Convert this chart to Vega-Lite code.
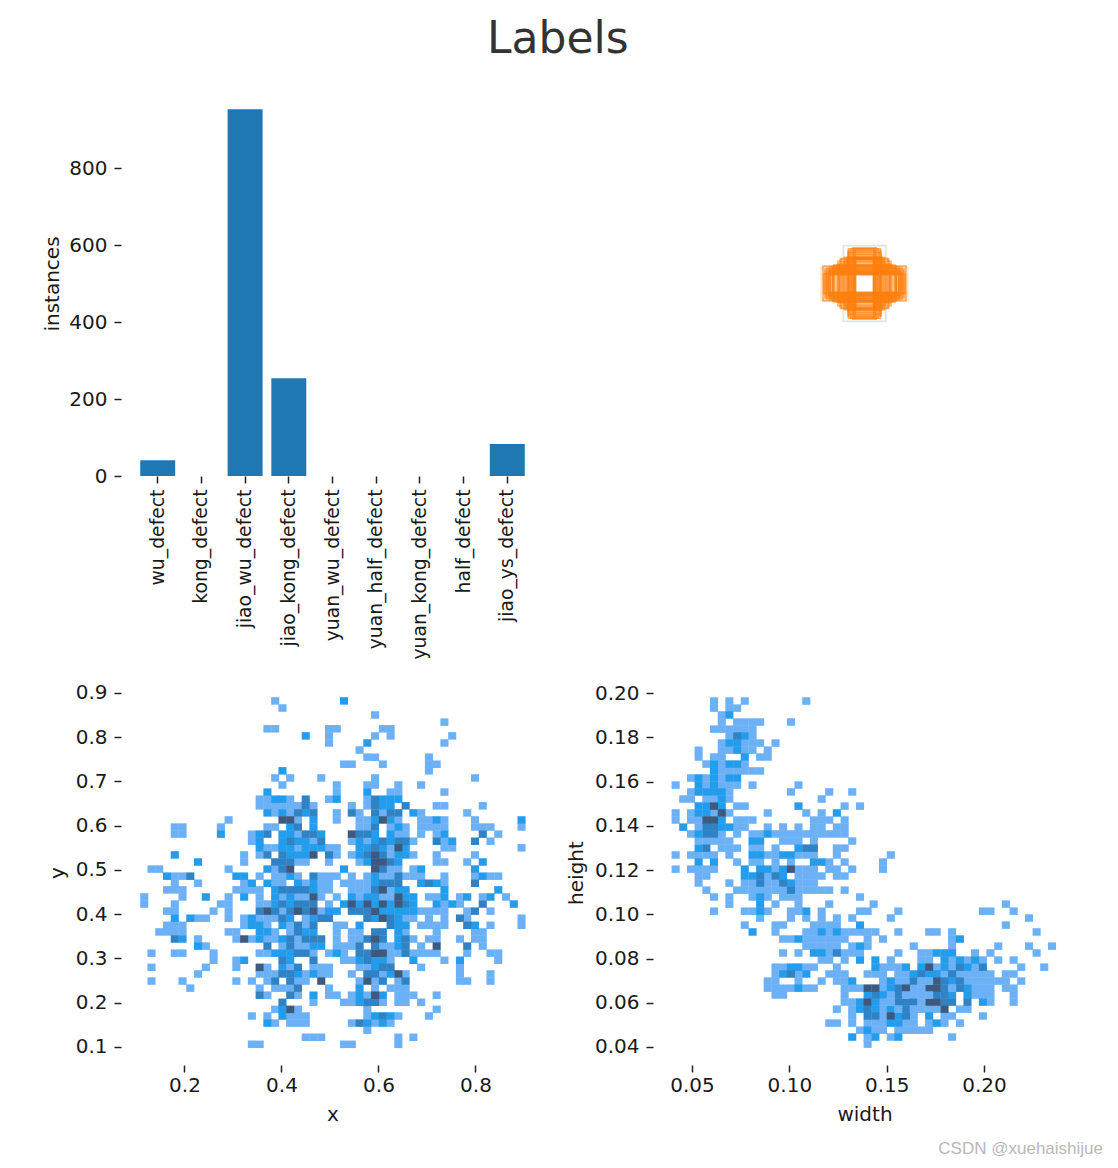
{"$schema":"https://vega.github.io/schema/vega-lite/v6.json","background":"white","padding":{"left":42,"top":18,"right":0,"bottom":0},"title":{"text":"Labels","font":"DejaVu Sans","fontSize":44,"fontWeight":"normal","color":"#333333","anchor":"middle","dx":-15,"offset":29},"config":{"font":"DejaVu Sans","view":{"stroke":null},"axis":{"labelFont":"DejaVu Sans","titleFont":"DejaVu Sans","labelFontSize":20,"titleFontSize":20,"titleFontWeight":"normal","labelColor":"#1a1a1a","titleColor":"#1a1a1a","domain":false,"grid":false,"tickSize":7,"tickWidth":1.5,"tickColor":"#222222","labelPadding":7,"labelOverlap":false,"labelFlush":false,"labelLimit":400}},"concat":[{"width":423,"height":385,"data":{"values":[{"c":"wu_defect","v":41},{"c":"kong_defect","v":0},{"c":"jiao_wu_defect","v":953},{"c":"jiao_kong_defect","v":254},{"c":"yuan_wu_defect","v":0},{"c":"yuan_half_defect","v":0},{"c":"yuan_kong_defect","v":0},{"c":"half_defect","v":0},{"c":"jiao_ys_defect","v":83}]},"mark":{"type":"bar","color":"#1f77b4"},"encoding":{"x":{"field":"c","type":"nominal","sort":null,"title":null,"scale":{"paddingInner":0.2,"paddingOuter":0.44},"axis":{"labelAngle":-90,"labelAlign":"right","labelBaseline":"middle","labelPadding":6,"labelFontSize":18.8}},"y":{"field":"v","type":"quantitative","title":"instances","scale":{"domain":[0,1000.6],"nice":false},"axis":{"values":[0,200,400,600,800],"titlePadding":6}}}},{"width":423,"height":385,"data":{"values":[{"g":"d","x0":0.398,"x1":0.602,"y0":0.4575,"y1":0.5425},{"g":"c","x0":0.45,"x1":0.55,"y0":0.4015,"y1":0.5985},{"g":"a","x0":0.479,"x1":0.521,"y0":0.425,"y1":0.575},{"g":"a","x0":0.4775,"x1":0.5225,"y0":0.41,"y1":0.59},{"g":"a","x0":0.476,"x1":0.524,"y0":0.435,"y1":0.565},{"g":"a","x0":0.475,"x1":0.525,"y0":0.415,"y1":0.585},{"g":"a","x0":0.475,"x1":0.525,"y0":0.43,"y1":0.57},{"g":"a","x0":0.4725,"x1":0.5275,"y0":0.4075,"y1":0.5925},{"g":"a","x0":0.47,"x1":0.53,"y0":0.425,"y1":0.575},{"g":"a","x0":0.47,"x1":0.53,"y0":0.435,"y1":0.565},{"g":"a","x0":0.4675,"x1":0.5325,"y0":0.41,"y1":0.59},{"g":"a","x0":0.465,"x1":0.535,"y0":0.42,"y1":0.58},{"g":"a","x0":0.465,"x1":0.535,"y0":0.435,"y1":0.565},{"g":"a","x0":0.4625,"x1":0.5375,"y0":0.41,"y1":0.59},{"g":"a","x0":0.461,"x1":0.539,"y0":0.415,"y1":0.585},{"g":"a","x0":0.46,"x1":0.54,"y0":0.43,"y1":0.57},{"g":"a","x0":0.4575,"x1":0.5425,"y0":0.435,"y1":0.565},{"g":"a","x0":0.455,"x1":0.545,"y0":0.44,"y1":0.56},{"g":"a","x0":0.4525,"x1":0.5475,"y0":0.4325,"y1":0.5675},{"g":"a","x0":0.45,"x1":0.55,"y0":0.445,"y1":0.555},{"g":"a","x0":0.4475,"x1":0.5525,"y0":0.455,"y1":0.545},{"g":"a","x0":0.445,"x1":0.555,"y0":0.435,"y1":0.565},{"g":"a","x0":0.4425,"x1":0.5575,"y0":0.4375,"y1":0.5625},{"g":"a","x0":0.44,"x1":0.56,"y0":0.45,"y1":0.55},{"g":"a","x0":0.4375,"x1":0.5625,"y0":0.4425,"y1":0.5575},{"g":"a","x0":0.435,"x1":0.565,"y0":0.4525,"y1":0.5475},{"g":"a","x0":0.43,"x1":0.57,"y0":0.46,"y1":0.54},{"g":"a","x0":0.4275,"x1":0.5725,"y0":0.4525,"y1":0.5475},{"g":"a","x0":0.425,"x1":0.575,"y0":0.4675,"y1":0.5325},{"g":"a","x0":0.425,"x1":0.575,"y0":0.475,"y1":0.525},{"g":"a","x0":0.42,"x1":0.58,"y0":0.47,"y1":0.53},{"g":"a","x0":0.42,"x1":0.58,"y0":0.4625,"y1":0.5375},{"g":"a","x0":0.4175,"x1":0.5825,"y0":0.4575,"y1":0.5425},{"g":"a","x0":0.415,"x1":0.585,"y0":0.465,"y1":0.535},{"g":"a","x0":0.415,"x1":0.585,"y0":0.4775,"y1":0.5225},{"g":"a","x0":0.4125,"x1":0.5875,"y0":0.475,"y1":0.525},{"g":"a","x0":0.41,"x1":0.59,"y0":0.4725,"y1":0.5275},{"g":"a","x0":0.4105,"x1":0.5895,"y0":0.46,"y1":0.54},{"g":"a","x0":0.408,"x1":0.592,"y0":0.4675,"y1":0.5325},{"g":"a","x0":0.406,"x1":0.594,"y0":0.4625,"y1":0.5375},{"g":"a","x0":0.404,"x1":0.596,"y0":0.475,"y1":0.525},{"g":"a","x0":0.402,"x1":0.598,"y0":0.455,"y1":0.545},{"g":"b","x0":0.478,"x1":0.522,"y0":0.435,"y1":0.565},{"g":"b","x0":0.44,"x1":0.56,"y0":0.472,"y1":0.528},{"g":"b","x0":0.415,"x1":0.585,"y0":0.47,"y1":0.53},{"g":"b","x0":0.425,"x1":0.575,"y0":0.455,"y1":0.545},{"g":"b","x0":0.4625,"x1":0.5375,"y0":0.42,"y1":0.58}]},"mark":{"type":"rect","fill":null,"strokeWidth":1.8,"strokeOpacity":0.6},"encoding":{"x":{"field":"x0","type":"quantitative","scale":{"domain":[0,1],"nice":false},"axis":null},"x2":{"field":"x1"},"y":{"field":"y0","type":"quantitative","scale":{"domain":[0,1],"nice":false},"axis":null},"y2":{"field":"y1"},"stroke":{"field":"g","type":"nominal","legend":null,"scale":{"domain":["a","b","c","d"],"range":["#ff7f0e","#8f9a32","#c9d3d0","#ffcf99"]}},"order":{"field":"g","sort":"descending"}}},{"width":423,"height":385,"data":{"values":[{"x":0.387,"y":0.882,"n":1},{"x":0.529,"y":0.882,"n":2},{"x":0.402,"y":0.866,"n":1},{"x":0.593,"y":0.85,"n":1},{"x":0.736,"y":0.834,"n":1},{"x":0.371,"y":0.819,"n":1},{"x":0.387,"y":0.819,"n":1},{"x":0.498,"y":0.819,"n":1},{"x":0.514,"y":0.819,"n":1},{"x":0.609,"y":0.819,"n":1},{"x":0.625,"y":0.819,"n":1},{"x":0.45,"y":0.803,"n":2},{"x":0.498,"y":0.803,"n":1},{"x":0.593,"y":0.803,"n":1},{"x":0.625,"y":0.803,"n":1},{"x":0.752,"y":0.803,"n":1},{"x":0.498,"y":0.787,"n":1},{"x":0.577,"y":0.787,"n":2},{"x":0.736,"y":0.787,"n":1},{"x":0.561,"y":0.771,"n":1},{"x":0.577,"y":0.755,"n":1},{"x":0.593,"y":0.755,"n":1},{"x":0.704,"y":0.755,"n":1},{"x":0.529,"y":0.739,"n":1},{"x":0.545,"y":0.739,"n":1},{"x":0.609,"y":0.739,"n":1},{"x":0.704,"y":0.739,"n":1},{"x":0.72,"y":0.739,"n":1},{"x":0.402,"y":0.724,"n":2},{"x":0.704,"y":0.724,"n":1},{"x":0.387,"y":0.708,"n":1},{"x":0.418,"y":0.708,"n":1},{"x":0.482,"y":0.708,"n":1},{"x":0.593,"y":0.708,"n":1},{"x":0.799,"y":0.708,"n":1},{"x":0.402,"y":0.692,"n":1},{"x":0.514,"y":0.692,"n":1},{"x":0.577,"y":0.692,"n":1},{"x":0.593,"y":0.692,"n":1},{"x":0.641,"y":0.692,"n":1},{"x":0.688,"y":0.692,"n":1},{"x":0.371,"y":0.676,"n":2},{"x":0.514,"y":0.676,"n":1},{"x":0.577,"y":0.676,"n":2},{"x":0.625,"y":0.676,"n":1},{"x":0.641,"y":0.676,"n":1},{"x":0.736,"y":0.676,"n":1},{"x":0.355,"y":0.66,"n":1},{"x":0.371,"y":0.66,"n":1},{"x":0.387,"y":0.66,"n":2},{"x":0.402,"y":0.66,"n":2},{"x":0.418,"y":0.66,"n":1},{"x":0.45,"y":0.66,"n":3},{"x":0.498,"y":0.66,"n":1},{"x":0.514,"y":0.66,"n":2},{"x":0.577,"y":0.66,"n":1},{"x":0.593,"y":0.66,"n":3},{"x":0.609,"y":0.66,"n":2},{"x":0.625,"y":0.66,"n":2},{"x":0.641,"y":0.66,"n":2},{"x":0.355,"y":0.645,"n":1},{"x":0.371,"y":0.645,"n":1},{"x":0.387,"y":0.645,"n":1},{"x":0.402,"y":0.645,"n":1},{"x":0.418,"y":0.645,"n":1},{"x":0.434,"y":0.645,"n":1},{"x":0.45,"y":0.645,"n":3},{"x":0.466,"y":0.645,"n":1},{"x":0.545,"y":0.645,"n":1},{"x":0.577,"y":0.645,"n":1},{"x":0.593,"y":0.645,"n":3},{"x":0.609,"y":0.645,"n":2},{"x":0.625,"y":0.645,"n":2},{"x":0.656,"y":0.645,"n":3},{"x":0.72,"y":0.645,"n":1},{"x":0.736,"y":0.645,"n":1},{"x":0.815,"y":0.645,"n":1},{"x":0.371,"y":0.629,"n":2},{"x":0.387,"y":0.629,"n":1},{"x":0.402,"y":0.629,"n":2},{"x":0.418,"y":0.629,"n":1},{"x":0.434,"y":0.629,"n":3},{"x":0.45,"y":0.629,"n":2},{"x":0.466,"y":0.629,"n":3},{"x":0.514,"y":0.629,"n":1},{"x":0.545,"y":0.629,"n":3},{"x":0.561,"y":0.629,"n":1},{"x":0.593,"y":0.629,"n":3},{"x":0.609,"y":0.629,"n":1},{"x":0.625,"y":0.629,"n":3},{"x":0.641,"y":0.629,"n":3},{"x":0.672,"y":0.629,"n":2},{"x":0.688,"y":0.629,"n":1},{"x":0.783,"y":0.629,"n":1},{"x":0.402,"y":0.613,"n":4},{"x":0.418,"y":0.613,"n":4},{"x":0.434,"y":0.613,"n":1},{"x":0.466,"y":0.613,"n":2},{"x":0.514,"y":0.613,"n":1},{"x":0.561,"y":0.613,"n":1},{"x":0.577,"y":0.613,"n":1},{"x":0.593,"y":0.613,"n":2},{"x":0.609,"y":0.613,"n":4},{"x":0.625,"y":0.613,"n":2},{"x":0.641,"y":0.613,"n":1},{"x":0.688,"y":0.613,"n":1},{"x":0.704,"y":0.613,"n":1},{"x":0.72,"y":0.613,"n":2},{"x":0.736,"y":0.613,"n":1},{"x":0.799,"y":0.613,"n":1},{"x":0.895,"y":0.613,"n":2},{"x":0.291,"y":0.613,"n":1},{"x":0.18,"y":0.597,"n":1},{"x":0.196,"y":0.597,"n":1},{"x":0.275,"y":0.597,"n":1},{"x":0.371,"y":0.597,"n":1},{"x":0.387,"y":0.597,"n":1},{"x":0.418,"y":0.597,"n":2},{"x":0.434,"y":0.597,"n":3},{"x":0.466,"y":0.597,"n":2},{"x":0.561,"y":0.597,"n":1},{"x":0.577,"y":0.597,"n":1},{"x":0.593,"y":0.597,"n":3},{"x":0.625,"y":0.597,"n":1},{"x":0.641,"y":0.597,"n":2},{"x":0.656,"y":0.597,"n":1},{"x":0.688,"y":0.597,"n":1},{"x":0.704,"y":0.597,"n":1},{"x":0.72,"y":0.597,"n":1},{"x":0.736,"y":0.597,"n":1},{"x":0.799,"y":0.597,"n":1},{"x":0.815,"y":0.597,"n":1},{"x":0.831,"y":0.597,"n":1},{"x":0.895,"y":0.597,"n":1},{"x":0.18,"y":0.581,"n":1},{"x":0.196,"y":0.581,"n":1},{"x":0.275,"y":0.581,"n":2},{"x":0.339,"y":0.581,"n":1},{"x":0.355,"y":0.581,"n":2},{"x":0.371,"y":0.581,"n":3},{"x":0.402,"y":0.581,"n":2},{"x":0.418,"y":0.581,"n":2},{"x":0.434,"y":0.581,"n":1},{"x":0.45,"y":0.581,"n":3},{"x":0.466,"y":0.581,"n":3},{"x":0.482,"y":0.581,"n":2},{"x":0.545,"y":0.581,"n":4},{"x":0.561,"y":0.581,"n":3},{"x":0.577,"y":0.581,"n":3},{"x":0.593,"y":0.581,"n":2},{"x":0.625,"y":0.581,"n":2},{"x":0.641,"y":0.581,"n":1},{"x":0.656,"y":0.581,"n":1},{"x":0.688,"y":0.581,"n":1},{"x":0.72,"y":0.581,"n":1},{"x":0.736,"y":0.581,"n":2},{"x":0.815,"y":0.581,"n":3},{"x":0.847,"y":0.581,"n":1},{"x":0.339,"y":0.565,"n":1},{"x":0.355,"y":0.565,"n":2},{"x":0.402,"y":0.565,"n":2},{"x":0.418,"y":0.565,"n":3},{"x":0.434,"y":0.565,"n":2},{"x":0.45,"y":0.565,"n":2},{"x":0.466,"y":0.565,"n":1},{"x":0.482,"y":0.565,"n":3},{"x":0.545,"y":0.565,"n":1},{"x":0.561,"y":0.565,"n":2},{"x":0.577,"y":0.565,"n":1},{"x":0.593,"y":0.565,"n":2},{"x":0.609,"y":0.565,"n":3},{"x":0.625,"y":0.565,"n":2},{"x":0.641,"y":0.565,"n":3},{"x":0.656,"y":0.565,"n":3},{"x":0.672,"y":0.565,"n":1},{"x":0.72,"y":0.565,"n":3},{"x":0.736,"y":0.565,"n":1},{"x":0.752,"y":0.565,"n":2},{"x":0.799,"y":0.565,"n":3},{"x":0.831,"y":0.565,"n":1},{"x":0.355,"y":0.55,"n":2},{"x":0.371,"y":0.55,"n":1},{"x":0.387,"y":0.55,"n":1},{"x":0.402,"y":0.55,"n":2},{"x":0.418,"y":0.55,"n":2},{"x":0.434,"y":0.55,"n":1},{"x":0.45,"y":0.55,"n":2},{"x":0.466,"y":0.55,"n":2},{"x":0.482,"y":0.55,"n":2},{"x":0.498,"y":0.55,"n":1},{"x":0.514,"y":0.55,"n":1},{"x":0.561,"y":0.55,"n":2},{"x":0.577,"y":0.55,"n":2},{"x":0.593,"y":0.55,"n":3},{"x":0.609,"y":0.55,"n":2},{"x":0.625,"y":0.55,"n":1},{"x":0.641,"y":0.55,"n":4},{"x":0.656,"y":0.55,"n":2},{"x":0.736,"y":0.55,"n":1},{"x":0.752,"y":0.55,"n":1},{"x":0.895,"y":0.55,"n":1},{"x":0.18,"y":0.534,"n":2},{"x":0.323,"y":0.534,"n":1},{"x":0.355,"y":0.534,"n":1},{"x":0.371,"y":0.534,"n":3},{"x":0.402,"y":0.534,"n":3},{"x":0.418,"y":0.534,"n":2},{"x":0.434,"y":0.534,"n":2},{"x":0.45,"y":0.534,"n":2},{"x":0.466,"y":0.534,"n":4},{"x":0.498,"y":0.534,"n":3},{"x":0.514,"y":0.534,"n":1},{"x":0.545,"y":0.534,"n":1},{"x":0.561,"y":0.534,"n":2},{"x":0.577,"y":0.534,"n":3},{"x":0.593,"y":0.534,"n":4},{"x":0.609,"y":0.534,"n":3},{"x":0.625,"y":0.534,"n":1},{"x":0.641,"y":0.534,"n":2},{"x":0.656,"y":0.534,"n":2},{"x":0.672,"y":0.534,"n":1},{"x":0.72,"y":0.534,"n":1},{"x":0.799,"y":0.534,"n":1},{"x":0.228,"y":0.518,"n":2},{"x":0.323,"y":0.518,"n":1},{"x":0.387,"y":0.518,"n":3},{"x":0.402,"y":0.518,"n":3},{"x":0.418,"y":0.518,"n":3},{"x":0.434,"y":0.518,"n":1},{"x":0.45,"y":0.518,"n":1},{"x":0.498,"y":0.518,"n":1},{"x":0.561,"y":0.518,"n":1},{"x":0.577,"y":0.518,"n":2},{"x":0.593,"y":0.518,"n":4},{"x":0.609,"y":0.518,"n":4},{"x":0.625,"y":0.518,"n":3},{"x":0.641,"y":0.518,"n":2},{"x":0.72,"y":0.518,"n":1},{"x":0.736,"y":0.518,"n":1},{"x":0.783,"y":0.518,"n":1},{"x":0.815,"y":0.518,"n":2},{"x":0.132,"y":0.502,"n":1},{"x":0.148,"y":0.502,"n":1},{"x":0.291,"y":0.502,"n":1},{"x":0.371,"y":0.502,"n":2},{"x":0.387,"y":0.502,"n":1},{"x":0.402,"y":0.502,"n":3},{"x":0.418,"y":0.502,"n":4},{"x":0.529,"y":0.502,"n":2},{"x":0.593,"y":0.502,"n":4},{"x":0.609,"y":0.502,"n":3},{"x":0.625,"y":0.502,"n":1},{"x":0.641,"y":0.502,"n":1},{"x":0.672,"y":0.502,"n":1},{"x":0.688,"y":0.502,"n":2},{"x":0.799,"y":0.502,"n":2},{"x":0.164,"y":0.486,"n":2},{"x":0.18,"y":0.486,"n":1},{"x":0.196,"y":0.486,"n":1},{"x":0.212,"y":0.486,"n":3},{"x":0.307,"y":0.486,"n":2},{"x":0.323,"y":0.486,"n":2},{"x":0.355,"y":0.486,"n":1},{"x":0.387,"y":0.486,"n":1},{"x":0.402,"y":0.486,"n":1},{"x":0.418,"y":0.486,"n":2},{"x":0.434,"y":0.486,"n":1},{"x":0.466,"y":0.486,"n":3},{"x":0.482,"y":0.486,"n":1},{"x":0.498,"y":0.486,"n":1},{"x":0.514,"y":0.486,"n":1},{"x":0.545,"y":0.486,"n":1},{"x":0.577,"y":0.486,"n":1},{"x":0.593,"y":0.486,"n":2},{"x":0.609,"y":0.486,"n":1},{"x":0.625,"y":0.486,"n":1},{"x":0.641,"y":0.486,"n":3},{"x":0.656,"y":0.486,"n":1},{"x":0.672,"y":0.486,"n":1},{"x":0.688,"y":0.486,"n":1},{"x":0.736,"y":0.486,"n":1},{"x":0.799,"y":0.486,"n":1},{"x":0.815,"y":0.486,"n":2},{"x":0.831,"y":0.486,"n":1},{"x":0.847,"y":0.486,"n":1},{"x":0.18,"y":0.47,"n":1},{"x":0.228,"y":0.47,"n":1},{"x":0.323,"y":0.47,"n":1},{"x":0.339,"y":0.47,"n":2},{"x":0.371,"y":0.47,"n":2},{"x":0.387,"y":0.47,"n":1},{"x":0.402,"y":0.47,"n":1},{"x":0.434,"y":0.47,"n":2},{"x":0.45,"y":0.47,"n":1},{"x":0.466,"y":0.47,"n":2},{"x":0.482,"y":0.47,"n":1},{"x":0.498,"y":0.47,"n":1},{"x":0.529,"y":0.47,"n":1},{"x":0.545,"y":0.47,"n":1},{"x":0.561,"y":0.47,"n":1},{"x":0.577,"y":0.47,"n":1},{"x":0.593,"y":0.47,"n":2},{"x":0.609,"y":0.47,"n":3},{"x":0.625,"y":0.47,"n":3},{"x":0.641,"y":0.47,"n":3},{"x":0.688,"y":0.47,"n":2},{"x":0.704,"y":0.47,"n":3},{"x":0.72,"y":0.47,"n":2},{"x":0.736,"y":0.47,"n":1},{"x":0.799,"y":0.47,"n":3},{"x":0.164,"y":0.455,"n":1},{"x":0.18,"y":0.455,"n":1},{"x":0.196,"y":0.455,"n":1},{"x":0.307,"y":0.455,"n":1},{"x":0.323,"y":0.455,"n":1},{"x":0.339,"y":0.455,"n":1},{"x":0.355,"y":0.455,"n":1},{"x":0.387,"y":0.455,"n":2},{"x":0.402,"y":0.455,"n":3},{"x":0.418,"y":0.455,"n":3},{"x":0.434,"y":0.455,"n":3},{"x":0.45,"y":0.455,"n":3},{"x":0.466,"y":0.455,"n":2},{"x":0.482,"y":0.455,"n":1},{"x":0.498,"y":0.455,"n":1},{"x":0.545,"y":0.455,"n":1},{"x":0.561,"y":0.455,"n":1},{"x":0.577,"y":0.455,"n":1},{"x":0.593,"y":0.455,"n":3},{"x":0.609,"y":0.455,"n":4},{"x":0.625,"y":0.455,"n":1},{"x":0.641,"y":0.455,"n":2},{"x":0.656,"y":0.455,"n":2},{"x":0.736,"y":0.455,"n":2},{"x":0.847,"y":0.455,"n":2},{"x":0.117,"y":0.439,"n":1},{"x":0.196,"y":0.439,"n":1},{"x":0.244,"y":0.439,"n":2},{"x":0.291,"y":0.439,"n":1},{"x":0.323,"y":0.439,"n":2},{"x":0.355,"y":0.439,"n":1},{"x":0.387,"y":0.439,"n":2},{"x":0.402,"y":0.439,"n":1},{"x":0.418,"y":0.439,"n":2},{"x":0.434,"y":0.439,"n":1},{"x":0.45,"y":0.439,"n":1},{"x":0.466,"y":0.439,"n":4},{"x":0.482,"y":0.439,"n":1},{"x":0.514,"y":0.439,"n":1},{"x":0.545,"y":0.439,"n":2},{"x":0.561,"y":0.439,"n":1},{"x":0.577,"y":0.439,"n":2},{"x":0.593,"y":0.439,"n":2},{"x":0.609,"y":0.439,"n":1},{"x":0.625,"y":0.439,"n":1},{"x":0.641,"y":0.439,"n":4},{"x":0.656,"y":0.439,"n":2},{"x":0.672,"y":0.439,"n":2},{"x":0.704,"y":0.439,"n":1},{"x":0.72,"y":0.439,"n":1},{"x":0.736,"y":0.439,"n":2},{"x":0.768,"y":0.439,"n":1},{"x":0.783,"y":0.439,"n":2},{"x":0.815,"y":0.439,"n":1},{"x":0.831,"y":0.439,"n":2},{"x":0.863,"y":0.439,"n":1},{"x":0.117,"y":0.423,"n":1},{"x":0.18,"y":0.423,"n":1},{"x":0.275,"y":0.423,"n":1},{"x":0.291,"y":0.423,"n":1},{"x":0.355,"y":0.423,"n":1},{"x":0.371,"y":0.423,"n":1},{"x":0.387,"y":0.423,"n":2},{"x":0.402,"y":0.423,"n":3},{"x":0.418,"y":0.423,"n":2},{"x":0.434,"y":0.423,"n":3},{"x":0.45,"y":0.423,"n":3},{"x":0.466,"y":0.423,"n":3},{"x":0.498,"y":0.423,"n":1},{"x":0.529,"y":0.423,"n":2},{"x":0.545,"y":0.423,"n":4},{"x":0.561,"y":0.423,"n":2},{"x":0.577,"y":0.423,"n":4},{"x":0.593,"y":0.423,"n":2},{"x":0.609,"y":0.423,"n":4},{"x":0.625,"y":0.423,"n":2},{"x":0.641,"y":0.423,"n":4},{"x":0.656,"y":0.423,"n":3},{"x":0.672,"y":0.423,"n":2},{"x":0.72,"y":0.423,"n":2},{"x":0.736,"y":0.423,"n":1},{"x":0.752,"y":0.423,"n":2},{"x":0.768,"y":0.423,"n":1},{"x":0.815,"y":0.423,"n":3},{"x":0.879,"y":0.423,"n":2},{"x":0.164,"y":0.407,"n":1},{"x":0.18,"y":0.407,"n":1},{"x":0.26,"y":0.407,"n":1},{"x":0.291,"y":0.407,"n":1},{"x":0.355,"y":0.407,"n":3},{"x":0.371,"y":0.407,"n":4},{"x":0.387,"y":0.407,"n":3},{"x":0.402,"y":0.407,"n":1},{"x":0.418,"y":0.407,"n":3},{"x":0.434,"y":0.407,"n":4},{"x":0.45,"y":0.407,"n":3},{"x":0.466,"y":0.407,"n":4},{"x":0.482,"y":0.407,"n":1},{"x":0.498,"y":0.407,"n":2},{"x":0.514,"y":0.407,"n":2},{"x":0.545,"y":0.407,"n":3},{"x":0.561,"y":0.407,"n":3},{"x":0.577,"y":0.407,"n":3},{"x":0.593,"y":0.407,"n":4},{"x":0.609,"y":0.407,"n":2},{"x":0.625,"y":0.407,"n":2},{"x":0.641,"y":0.407,"n":2},{"x":0.656,"y":0.407,"n":2},{"x":0.672,"y":0.407,"n":2},{"x":0.688,"y":0.407,"n":1},{"x":0.704,"y":0.407,"n":1},{"x":0.72,"y":0.407,"n":1},{"x":0.736,"y":0.407,"n":1},{"x":0.783,"y":0.407,"n":1},{"x":0.799,"y":0.407,"n":3},{"x":0.831,"y":0.407,"n":1},{"x":0.18,"y":0.391,"n":2},{"x":0.212,"y":0.391,"n":2},{"x":0.228,"y":0.391,"n":1},{"x":0.244,"y":0.391,"n":1},{"x":0.291,"y":0.391,"n":1},{"x":0.323,"y":0.391,"n":1},{"x":0.339,"y":0.391,"n":2},{"x":0.355,"y":0.391,"n":1},{"x":0.371,"y":0.391,"n":1},{"x":0.387,"y":0.391,"n":1},{"x":0.402,"y":0.391,"n":3},{"x":0.418,"y":0.391,"n":2},{"x":0.45,"y":0.391,"n":1},{"x":0.466,"y":0.391,"n":2},{"x":0.482,"y":0.391,"n":3},{"x":0.498,"y":0.391,"n":3},{"x":0.577,"y":0.391,"n":3},{"x":0.593,"y":0.391,"n":2},{"x":0.609,"y":0.391,"n":4},{"x":0.625,"y":0.391,"n":3},{"x":0.641,"y":0.391,"n":2},{"x":0.656,"y":0.391,"n":1},{"x":0.672,"y":0.391,"n":1},{"x":0.704,"y":0.391,"n":1},{"x":0.736,"y":0.391,"n":1},{"x":0.768,"y":0.391,"n":3},{"x":0.783,"y":0.391,"n":1},{"x":0.895,"y":0.391,"n":1},{"x":0.164,"y":0.375,"n":1},{"x":0.18,"y":0.375,"n":1},{"x":0.196,"y":0.375,"n":1},{"x":0.323,"y":0.375,"n":1},{"x":0.339,"y":0.375,"n":2},{"x":0.355,"y":0.375,"n":2},{"x":0.371,"y":0.375,"n":1},{"x":0.402,"y":0.375,"n":2},{"x":0.418,"y":0.375,"n":1},{"x":0.434,"y":0.375,"n":3},{"x":0.45,"y":0.375,"n":1},{"x":0.466,"y":0.375,"n":3},{"x":0.514,"y":0.375,"n":1},{"x":0.529,"y":0.375,"n":1},{"x":0.561,"y":0.375,"n":2},{"x":0.625,"y":0.375,"n":3},{"x":0.641,"y":0.375,"n":2},{"x":0.656,"y":0.375,"n":2},{"x":0.688,"y":0.375,"n":1},{"x":0.704,"y":0.375,"n":1},{"x":0.72,"y":0.375,"n":1},{"x":0.736,"y":0.375,"n":1},{"x":0.783,"y":0.375,"n":3},{"x":0.799,"y":0.375,"n":2},{"x":0.831,"y":0.375,"n":1},{"x":0.895,"y":0.375,"n":1},{"x":0.148,"y":0.36,"n":1},{"x":0.164,"y":0.36,"n":1},{"x":0.18,"y":0.36,"n":1},{"x":0.196,"y":0.36,"n":1},{"x":0.291,"y":0.36,"n":1},{"x":0.307,"y":0.36,"n":1},{"x":0.355,"y":0.36,"n":2},{"x":0.371,"y":0.36,"n":2},{"x":0.387,"y":0.36,"n":1},{"x":0.418,"y":0.36,"n":1},{"x":0.434,"y":0.36,"n":3},{"x":0.45,"y":0.36,"n":2},{"x":0.466,"y":0.36,"n":2},{"x":0.514,"y":0.36,"n":1},{"x":0.545,"y":0.36,"n":1},{"x":0.561,"y":0.36,"n":1},{"x":0.593,"y":0.36,"n":3},{"x":0.609,"y":0.36,"n":3},{"x":0.641,"y":0.36,"n":2},{"x":0.656,"y":0.36,"n":1},{"x":0.72,"y":0.36,"n":1},{"x":0.799,"y":0.36,"n":1},{"x":0.815,"y":0.36,"n":1},{"x":0.18,"y":0.344,"n":3},{"x":0.196,"y":0.344,"n":2},{"x":0.228,"y":0.344,"n":1},{"x":0.307,"y":0.344,"n":1},{"x":0.323,"y":0.344,"n":4},{"x":0.339,"y":0.344,"n":1},{"x":0.355,"y":0.344,"n":2},{"x":0.371,"y":0.344,"n":1},{"x":0.387,"y":0.344,"n":1},{"x":0.402,"y":0.344,"n":2},{"x":0.418,"y":0.344,"n":3},{"x":0.434,"y":0.344,"n":1},{"x":0.45,"y":0.344,"n":3},{"x":0.466,"y":0.344,"n":3},{"x":0.482,"y":0.344,"n":3},{"x":0.514,"y":0.344,"n":1},{"x":0.545,"y":0.344,"n":1},{"x":0.561,"y":0.344,"n":1},{"x":0.577,"y":0.344,"n":3},{"x":0.593,"y":0.344,"n":4},{"x":0.609,"y":0.344,"n":3},{"x":0.641,"y":0.344,"n":2},{"x":0.656,"y":0.344,"n":3},{"x":0.672,"y":0.344,"n":1},{"x":0.704,"y":0.344,"n":1},{"x":0.72,"y":0.344,"n":1},{"x":0.768,"y":0.344,"n":1},{"x":0.799,"y":0.344,"n":1},{"x":0.815,"y":0.344,"n":1},{"x":0.228,"y":0.328,"n":2},{"x":0.244,"y":0.328,"n":1},{"x":0.371,"y":0.328,"n":3},{"x":0.402,"y":0.328,"n":1},{"x":0.418,"y":0.328,"n":3},{"x":0.434,"y":0.328,"n":1},{"x":0.45,"y":0.328,"n":1},{"x":0.466,"y":0.328,"n":2},{"x":0.482,"y":0.328,"n":2},{"x":0.514,"y":0.328,"n":1},{"x":0.529,"y":0.328,"n":1},{"x":0.545,"y":0.328,"n":1},{"x":0.561,"y":0.328,"n":3},{"x":0.593,"y":0.328,"n":3},{"x":0.609,"y":0.328,"n":1},{"x":0.625,"y":0.328,"n":1},{"x":0.641,"y":0.328,"n":2},{"x":0.656,"y":0.328,"n":3},{"x":0.688,"y":0.328,"n":1},{"x":0.72,"y":0.328,"n":4},{"x":0.783,"y":0.328,"n":3},{"x":0.815,"y":0.328,"n":1},{"x":0.132,"y":0.312,"n":1},{"x":0.18,"y":0.312,"n":1},{"x":0.196,"y":0.312,"n":1},{"x":0.26,"y":0.312,"n":1},{"x":0.355,"y":0.312,"n":1},{"x":0.371,"y":0.312,"n":1},{"x":0.387,"y":0.312,"n":2},{"x":0.402,"y":0.312,"n":2},{"x":0.418,"y":0.312,"n":2},{"x":0.434,"y":0.312,"n":3},{"x":0.45,"y":0.312,"n":3},{"x":0.466,"y":0.312,"n":1},{"x":0.498,"y":0.312,"n":1},{"x":0.514,"y":0.312,"n":2},{"x":0.529,"y":0.312,"n":1},{"x":0.561,"y":0.312,"n":3},{"x":0.577,"y":0.312,"n":3},{"x":0.593,"y":0.312,"n":4},{"x":0.609,"y":0.312,"n":4},{"x":0.625,"y":0.312,"n":1},{"x":0.641,"y":0.312,"n":1},{"x":0.656,"y":0.312,"n":3},{"x":0.672,"y":0.312,"n":1},{"x":0.688,"y":0.312,"n":1},{"x":0.704,"y":0.312,"n":1},{"x":0.72,"y":0.312,"n":1},{"x":0.783,"y":0.312,"n":1},{"x":0.831,"y":0.312,"n":1},{"x":0.847,"y":0.312,"n":1},{"x":0.26,"y":0.296,"n":1},{"x":0.307,"y":0.296,"n":1},{"x":0.323,"y":0.296,"n":2},{"x":0.402,"y":0.296,"n":3},{"x":0.418,"y":0.296,"n":2},{"x":0.466,"y":0.296,"n":3},{"x":0.529,"y":0.296,"n":1},{"x":0.545,"y":0.296,"n":1},{"x":0.561,"y":0.296,"n":2},{"x":0.577,"y":0.296,"n":3},{"x":0.593,"y":0.296,"n":2},{"x":0.609,"y":0.296,"n":2},{"x":0.625,"y":0.296,"n":1},{"x":0.672,"y":0.296,"n":2},{"x":0.736,"y":0.296,"n":1},{"x":0.768,"y":0.296,"n":2},{"x":0.847,"y":0.296,"n":1},{"x":0.132,"y":0.28,"n":1},{"x":0.244,"y":0.28,"n":1},{"x":0.307,"y":0.28,"n":1},{"x":0.355,"y":0.28,"n":4},{"x":0.371,"y":0.28,"n":1},{"x":0.402,"y":0.28,"n":2},{"x":0.418,"y":0.28,"n":1},{"x":0.434,"y":0.28,"n":3},{"x":0.466,"y":0.28,"n":1},{"x":0.482,"y":0.28,"n":1},{"x":0.498,"y":0.28,"n":1},{"x":0.561,"y":0.28,"n":1},{"x":0.577,"y":0.28,"n":1},{"x":0.593,"y":0.28,"n":2},{"x":0.609,"y":0.28,"n":3},{"x":0.625,"y":0.28,"n":3},{"x":0.688,"y":0.28,"n":1},{"x":0.768,"y":0.28,"n":1},{"x":0.228,"y":0.265,"n":1},{"x":0.355,"y":0.265,"n":1},{"x":0.371,"y":0.265,"n":1},{"x":0.387,"y":0.265,"n":1},{"x":0.402,"y":0.265,"n":3},{"x":0.418,"y":0.265,"n":3},{"x":0.434,"y":0.265,"n":2},{"x":0.45,"y":0.265,"n":1},{"x":0.466,"y":0.265,"n":2},{"x":0.482,"y":0.265,"n":1},{"x":0.498,"y":0.265,"n":1},{"x":0.545,"y":0.265,"n":1},{"x":0.577,"y":0.265,"n":3},{"x":0.593,"y":0.265,"n":3},{"x":0.609,"y":0.265,"n":1},{"x":0.625,"y":0.265,"n":2},{"x":0.641,"y":0.265,"n":4},{"x":0.656,"y":0.265,"n":1},{"x":0.768,"y":0.265,"n":1},{"x":0.831,"y":0.265,"n":1},{"x":0.132,"y":0.249,"n":1},{"x":0.196,"y":0.249,"n":1},{"x":0.307,"y":0.249,"n":1},{"x":0.339,"y":0.249,"n":1},{"x":0.371,"y":0.249,"n":1},{"x":0.387,"y":0.249,"n":3},{"x":0.418,"y":0.249,"n":3},{"x":0.434,"y":0.249,"n":1},{"x":0.45,"y":0.249,"n":1},{"x":0.482,"y":0.249,"n":4},{"x":0.561,"y":0.249,"n":1},{"x":0.577,"y":0.249,"n":4},{"x":0.593,"y":0.249,"n":1},{"x":0.609,"y":0.249,"n":3},{"x":0.641,"y":0.249,"n":1},{"x":0.656,"y":0.249,"n":3},{"x":0.768,"y":0.249,"n":1},{"x":0.783,"y":0.249,"n":1},{"x":0.831,"y":0.249,"n":1},{"x":0.212,"y":0.233,"n":1},{"x":0.355,"y":0.233,"n":1},{"x":0.387,"y":0.233,"n":1},{"x":0.402,"y":0.233,"n":1},{"x":0.418,"y":0.233,"n":1},{"x":0.434,"y":0.233,"n":3},{"x":0.498,"y":0.233,"n":1},{"x":0.561,"y":0.233,"n":2},{"x":0.593,"y":0.233,"n":1},{"x":0.625,"y":0.233,"n":1},{"x":0.641,"y":0.233,"n":1},{"x":0.656,"y":0.233,"n":1},{"x":0.355,"y":0.217,"n":3},{"x":0.371,"y":0.217,"n":1},{"x":0.418,"y":0.217,"n":3},{"x":0.434,"y":0.217,"n":1},{"x":0.466,"y":0.217,"n":2},{"x":0.498,"y":0.217,"n":1},{"x":0.514,"y":0.217,"n":1},{"x":0.545,"y":0.217,"n":1},{"x":0.561,"y":0.217,"n":2},{"x":0.577,"y":0.217,"n":1},{"x":0.593,"y":0.217,"n":4},{"x":0.609,"y":0.217,"n":2},{"x":0.641,"y":0.217,"n":1},{"x":0.656,"y":0.217,"n":1},{"x":0.672,"y":0.217,"n":1},{"x":0.72,"y":0.217,"n":1},{"x":0.402,"y":0.201,"n":3},{"x":0.466,"y":0.201,"n":1},{"x":0.529,"y":0.201,"n":1},{"x":0.545,"y":0.201,"n":1},{"x":0.561,"y":0.201,"n":2},{"x":0.577,"y":0.201,"n":3},{"x":0.593,"y":0.201,"n":3},{"x":0.609,"y":0.201,"n":1},{"x":0.641,"y":0.201,"n":1},{"x":0.656,"y":0.201,"n":1},{"x":0.688,"y":0.201,"n":1},{"x":0.387,"y":0.185,"n":1},{"x":0.402,"y":0.185,"n":2},{"x":0.418,"y":0.185,"n":4},{"x":0.434,"y":0.185,"n":1},{"x":0.577,"y":0.185,"n":1},{"x":0.72,"y":0.185,"n":1},{"x":0.339,"y":0.17,"n":1},{"x":0.371,"y":0.17,"n":1},{"x":0.402,"y":0.17,"n":2},{"x":0.418,"y":0.17,"n":1},{"x":0.434,"y":0.17,"n":1},{"x":0.45,"y":0.17,"n":1},{"x":0.577,"y":0.17,"n":1},{"x":0.593,"y":0.17,"n":2},{"x":0.609,"y":0.17,"n":3},{"x":0.625,"y":0.17,"n":2},{"x":0.641,"y":0.17,"n":1},{"x":0.704,"y":0.17,"n":1},{"x":0.371,"y":0.154,"n":2},{"x":0.387,"y":0.154,"n":1},{"x":0.418,"y":0.154,"n":1},{"x":0.434,"y":0.154,"n":1},{"x":0.45,"y":0.154,"n":1},{"x":0.545,"y":0.154,"n":1},{"x":0.561,"y":0.154,"n":3},{"x":0.577,"y":0.154,"n":2},{"x":0.593,"y":0.154,"n":1},{"x":0.609,"y":0.154,"n":2},{"x":0.625,"y":0.154,"n":1},{"x":0.577,"y":0.138,"n":1},{"x":0.45,"y":0.122,"n":1},{"x":0.466,"y":0.122,"n":1},{"x":0.482,"y":0.122,"n":1},{"x":0.641,"y":0.122,"n":1},{"x":0.672,"y":0.122,"n":1},{"x":0.339,"y":0.106,"n":1},{"x":0.355,"y":0.106,"n":1},{"x":0.529,"y":0.106,"n":1},{"x":0.545,"y":0.106,"n":1},{"x":0.641,"y":0.106,"n":1}]},"mark":{"type":"rect","width":8.1,"height":7.5},"encoding":{"x":{"field":"x","type":"quantitative","title":"x","scale":{"domain":[0.0691,0.9413],"nice":false},"axis":{"values":[0.2,0.4,0.6,0.8],"format":".1f","labelPadding":3,"titlePadding":9}},"y":{"field":"y","type":"quantitative","title":"y","scale":{"domain":[0.0593,0.9293],"nice":false},"axis":{"values":[0.1,0.2,0.3,0.4,0.5,0.6,0.7,0.8,0.9],"format":".1f","titlePadding":8}},"color":{"field":"n","type":"ordinal","legend":null,"scale":{"domain":[1,2,3,4],"range":["#6cb1f5","#249cec","#2f82c4","#3c5a80"]}},"order":{"field":"n"}}},{"width":423,"height":385,"layer":[{"data":{"values":[{"x":0.0613,"y":0.1964,"n":1},{"x":0.0692,"y":0.1964,"n":1},{"x":0.0771,"y":0.1964,"n":1},{"x":0.1087,"y":0.1964,"n":1},{"x":0.0613,"y":0.1932,"n":1},{"x":0.0692,"y":0.1932,"n":1},{"x":0.0732,"y":0.1932,"n":1},{"x":0.0653,"y":0.1901,"n":1},{"x":0.0692,"y":0.1901,"n":2},{"x":0.0653,"y":0.1869,"n":1},{"x":0.0732,"y":0.1869,"n":1},{"x":0.0771,"y":0.1869,"n":1},{"x":0.0811,"y":0.1869,"n":1},{"x":0.085,"y":0.1869,"n":1},{"x":0.1008,"y":0.1869,"n":1},{"x":0.0613,"y":0.1837,"n":1},{"x":0.0653,"y":0.1837,"n":1},{"x":0.0692,"y":0.1837,"n":1},{"x":0.0732,"y":0.1837,"n":1},{"x":0.0771,"y":0.1837,"n":1},{"x":0.0811,"y":0.1837,"n":1},{"x":0.0692,"y":0.1806,"n":1},{"x":0.0732,"y":0.1806,"n":3},{"x":0.0771,"y":0.1806,"n":2},{"x":0.0811,"y":0.1806,"n":1},{"x":0.0653,"y":0.1774,"n":1},{"x":0.0692,"y":0.1774,"n":2},{"x":0.0732,"y":0.1774,"n":2},{"x":0.0771,"y":0.1774,"n":1},{"x":0.0811,"y":0.1774,"n":1},{"x":0.085,"y":0.1774,"n":1},{"x":0.0929,"y":0.1774,"n":1},{"x":0.0534,"y":0.1742,"n":1},{"x":0.0653,"y":0.1742,"n":1},{"x":0.0692,"y":0.1742,"n":1},{"x":0.0732,"y":0.1742,"n":2},{"x":0.0771,"y":0.1742,"n":1},{"x":0.0811,"y":0.1742,"n":1},{"x":0.0889,"y":0.1742,"n":1},{"x":0.0534,"y":0.1711,"n":1},{"x":0.0613,"y":0.1711,"n":1},{"x":0.0653,"y":0.1711,"n":1},{"x":0.0771,"y":0.1711,"n":2},{"x":0.085,"y":0.1711,"n":1},{"x":0.0889,"y":0.1711,"n":1},{"x":0.0574,"y":0.1679,"n":1},{"x":0.0613,"y":0.1679,"n":2},{"x":0.0653,"y":0.1679,"n":1},{"x":0.0692,"y":0.1679,"n":2},{"x":0.0732,"y":0.1679,"n":2},{"x":0.0771,"y":0.1679,"n":1},{"x":0.0613,"y":0.1648,"n":2},{"x":0.0653,"y":0.1648,"n":1},{"x":0.0692,"y":0.1648,"n":1},{"x":0.0732,"y":0.1648,"n":1},{"x":0.0771,"y":0.1648,"n":1},{"x":0.0811,"y":0.1648,"n":1},{"x":0.085,"y":0.1648,"n":1},{"x":0.0495,"y":0.1616,"n":1},{"x":0.0534,"y":0.1616,"n":2},{"x":0.0574,"y":0.1616,"n":1},{"x":0.0613,"y":0.1616,"n":2},{"x":0.0653,"y":0.1616,"n":1},{"x":0.0692,"y":0.1616,"n":2},{"x":0.0732,"y":0.1616,"n":2},{"x":0.0416,"y":0.1584,"n":1},{"x":0.0534,"y":0.1584,"n":2},{"x":0.0574,"y":0.1584,"n":1},{"x":0.0613,"y":0.1584,"n":2},{"x":0.0653,"y":0.1584,"n":1},{"x":0.0692,"y":0.1584,"n":1},{"x":0.0732,"y":0.1584,"n":1},{"x":0.0811,"y":0.1584,"n":1},{"x":0.1047,"y":0.1584,"n":1},{"x":0.0495,"y":0.1553,"n":1},{"x":0.0534,"y":0.1553,"n":2},{"x":0.0574,"y":0.1553,"n":2},{"x":0.0613,"y":0.1553,"n":2},{"x":0.0653,"y":0.1553,"n":2},{"x":0.0692,"y":0.1553,"n":1},{"x":0.1008,"y":0.1553,"n":1},{"x":0.1205,"y":0.1553,"n":1},{"x":0.1323,"y":0.1553,"n":1},{"x":0.0455,"y":0.1521,"n":1},{"x":0.0495,"y":0.1521,"n":1},{"x":0.0574,"y":0.1521,"n":1},{"x":0.0613,"y":0.1521,"n":1},{"x":0.0653,"y":0.1521,"n":2},{"x":0.0692,"y":0.1521,"n":1},{"x":0.1166,"y":0.1521,"n":1},{"x":0.0534,"y":0.1489,"n":2},{"x":0.0574,"y":0.1489,"n":2},{"x":0.0613,"y":0.1489,"n":4},{"x":0.0653,"y":0.1489,"n":2},{"x":0.0732,"y":0.1489,"n":1},{"x":0.0771,"y":0.1489,"n":1},{"x":0.1047,"y":0.1489,"n":2},{"x":0.1284,"y":0.1489,"n":1},{"x":0.1363,"y":0.1489,"n":1},{"x":0.0416,"y":0.1458,"n":1},{"x":0.0495,"y":0.1458,"n":1},{"x":0.0534,"y":0.1458,"n":2},{"x":0.0574,"y":0.1458,"n":2},{"x":0.0613,"y":0.1458,"n":1},{"x":0.0653,"y":0.1458,"n":4},{"x":0.0692,"y":0.1458,"n":1},{"x":0.0889,"y":0.1458,"n":1},{"x":0.1087,"y":0.1458,"n":1},{"x":0.1166,"y":0.1458,"n":1},{"x":0.1244,"y":0.1458,"n":2},{"x":0.0416,"y":0.1426,"n":1},{"x":0.0495,"y":0.1426,"n":1},{"x":0.0534,"y":0.1426,"n":1},{"x":0.0574,"y":0.1426,"n":4},{"x":0.0613,"y":0.1426,"n":4},{"x":0.0653,"y":0.1426,"n":2},{"x":0.0732,"y":0.1426,"n":1},{"x":0.0771,"y":0.1426,"n":1},{"x":0.0811,"y":0.1426,"n":1},{"x":0.1126,"y":0.1426,"n":1},{"x":0.1166,"y":0.1426,"n":1},{"x":0.1205,"y":0.1426,"n":1},{"x":0.1284,"y":0.1426,"n":1},{"x":0.0455,"y":0.1394,"n":2},{"x":0.0534,"y":0.1394,"n":1},{"x":0.0574,"y":0.1394,"n":3},{"x":0.0613,"y":0.1394,"n":3},{"x":0.0653,"y":0.1394,"n":2},{"x":0.0692,"y":0.1394,"n":2},{"x":0.0732,"y":0.1394,"n":1},{"x":0.0771,"y":0.1394,"n":1},{"x":0.0889,"y":0.1394,"n":1},{"x":0.0968,"y":0.1394,"n":1},{"x":0.1047,"y":0.1394,"n":1},{"x":0.1126,"y":0.1394,"n":1},{"x":0.1166,"y":0.1394,"n":1},{"x":0.1244,"y":0.1394,"n":1},{"x":0.1284,"y":0.1394,"n":1},{"x":0.0495,"y":0.1363,"n":1},{"x":0.0534,"y":0.1363,"n":2},{"x":0.0574,"y":0.1363,"n":3},{"x":0.0613,"y":0.1363,"n":3},{"x":0.0653,"y":0.1363,"n":1},{"x":0.0732,"y":0.1363,"n":1},{"x":0.0811,"y":0.1363,"n":1},{"x":0.085,"y":0.1363,"n":1},{"x":0.0889,"y":0.1363,"n":2},{"x":0.0929,"y":0.1363,"n":1},{"x":0.0968,"y":0.1363,"n":1},{"x":0.1008,"y":0.1363,"n":1},{"x":0.1047,"y":0.1363,"n":1},{"x":0.1087,"y":0.1363,"n":1},{"x":0.1126,"y":0.1363,"n":1},{"x":0.1166,"y":0.1363,"n":1},{"x":0.1205,"y":0.1363,"n":1},{"x":0.1244,"y":0.1363,"n":1},{"x":0.1284,"y":0.1363,"n":1},{"x":0.0534,"y":0.1331,"n":1},{"x":0.0574,"y":0.1331,"n":1},{"x":0.0613,"y":0.1331,"n":1},{"x":0.0653,"y":0.1331,"n":1},{"x":0.0692,"y":0.1331,"n":1},{"x":0.0811,"y":0.1331,"n":2},{"x":0.085,"y":0.1331,"n":2},{"x":0.0968,"y":0.1331,"n":1},{"x":0.1008,"y":0.1331,"n":1},{"x":0.1047,"y":0.1331,"n":1},{"x":0.1126,"y":0.1331,"n":1},{"x":0.1323,"y":0.1331,"n":1},{"x":0.0534,"y":0.1299,"n":2},{"x":0.0574,"y":0.1299,"n":3},{"x":0.0653,"y":0.1299,"n":1},{"x":0.0692,"y":0.1299,"n":1},{"x":0.0732,"y":0.1299,"n":1},{"x":0.0811,"y":0.1299,"n":1},{"x":0.085,"y":0.1299,"n":1},{"x":0.0929,"y":0.1299,"n":1},{"x":0.1047,"y":0.1299,"n":2},{"x":0.1087,"y":0.1299,"n":3},{"x":0.1126,"y":0.1299,"n":3},{"x":0.1244,"y":0.1299,"n":1},{"x":0.1284,"y":0.1299,"n":1},{"x":0.0416,"y":0.1268,"n":1},{"x":0.0495,"y":0.1268,"n":1},{"x":0.0534,"y":0.1268,"n":1},{"x":0.0574,"y":0.1268,"n":1},{"x":0.0613,"y":0.1268,"n":1},{"x":0.0692,"y":0.1268,"n":1},{"x":0.0811,"y":0.1268,"n":2},{"x":0.085,"y":0.1268,"n":2},{"x":0.0889,"y":0.1268,"n":1},{"x":0.0929,"y":0.1268,"n":1},{"x":0.0968,"y":0.1268,"n":2},{"x":0.1008,"y":0.1268,"n":2},{"x":0.1047,"y":0.1268,"n":1},{"x":0.1087,"y":0.1268,"n":1},{"x":0.1126,"y":0.1268,"n":1},{"x":0.1244,"y":0.1268,"n":1},{"x":0.1521,"y":0.1268,"n":1},{"x":0.0534,"y":0.1236,"n":2},{"x":0.0613,"y":0.1236,"n":2},{"x":0.0732,"y":0.1236,"n":1},{"x":0.0811,"y":0.1236,"n":1},{"x":0.085,"y":0.1236,"n":1},{"x":0.0929,"y":0.1236,"n":1},{"x":0.1008,"y":0.1236,"n":1},{"x":0.1126,"y":0.1236,"n":2},{"x":0.1166,"y":0.1236,"n":2},{"x":0.1205,"y":0.1236,"n":1},{"x":0.1284,"y":0.1236,"n":1},{"x":0.1481,"y":0.1236,"n":1},{"x":0.0416,"y":0.1204,"n":1},{"x":0.0495,"y":0.1204,"n":1},{"x":0.0534,"y":0.1204,"n":1},{"x":0.0574,"y":0.1204,"n":1},{"x":0.0613,"y":0.1204,"n":1},{"x":0.0771,"y":0.1204,"n":2},{"x":0.085,"y":0.1204,"n":2},{"x":0.0889,"y":0.1204,"n":2},{"x":0.0929,"y":0.1204,"n":1},{"x":0.0968,"y":0.1204,"n":2},{"x":0.1008,"y":0.1204,"n":4},{"x":0.1047,"y":0.1204,"n":1},{"x":0.1087,"y":0.1204,"n":1},{"x":0.1126,"y":0.1204,"n":1},{"x":0.1205,"y":0.1204,"n":1},{"x":0.1244,"y":0.1204,"n":1},{"x":0.1323,"y":0.1204,"n":1},{"x":0.1481,"y":0.1204,"n":1},{"x":0.0534,"y":0.1173,"n":1},{"x":0.0574,"y":0.1173,"n":1},{"x":0.0771,"y":0.1173,"n":2},{"x":0.0811,"y":0.1173,"n":2},{"x":0.085,"y":0.1173,"n":3},{"x":0.0889,"y":0.1173,"n":1},{"x":0.0929,"y":0.1173,"n":3},{"x":0.0968,"y":0.1173,"n":2},{"x":0.1047,"y":0.1173,"n":1},{"x":0.1087,"y":0.1173,"n":1},{"x":0.1126,"y":0.1173,"n":1},{"x":0.1166,"y":0.1173,"n":1},{"x":0.1244,"y":0.1173,"n":1},{"x":0.1284,"y":0.1173,"n":1},{"x":0.0534,"y":0.1141,"n":1},{"x":0.0692,"y":0.1141,"n":1},{"x":0.0771,"y":0.1141,"n":1},{"x":0.0811,"y":0.1141,"n":1},{"x":0.085,"y":0.1141,"n":3},{"x":0.0889,"y":0.1141,"n":1},{"x":0.0929,"y":0.1141,"n":1},{"x":0.0968,"y":0.1141,"n":3},{"x":0.1008,"y":0.1141,"n":2},{"x":0.1047,"y":0.1141,"n":1},{"x":0.1087,"y":0.1141,"n":1},{"x":0.1126,"y":0.1141,"n":1},{"x":0.0574,"y":0.1109,"n":1},{"x":0.0732,"y":0.1109,"n":1},{"x":0.0771,"y":0.1109,"n":1},{"x":0.0811,"y":0.1109,"n":1},{"x":0.085,"y":0.1109,"n":1},{"x":0.0889,"y":0.1109,"n":1},{"x":0.0929,"y":0.1109,"n":1},{"x":0.0968,"y":0.1109,"n":1},{"x":0.1008,"y":0.1109,"n":3},{"x":0.1047,"y":0.1109,"n":1},{"x":0.1087,"y":0.1109,"n":1},{"x":0.1126,"y":0.1109,"n":1},{"x":0.1166,"y":0.1109,"n":1},{"x":0.1205,"y":0.1109,"n":1},{"x":0.1284,"y":0.1109,"n":1},{"x":0.0613,"y":0.1078,"n":1},{"x":0.0692,"y":0.1078,"n":1},{"x":0.0811,"y":0.1078,"n":1},{"x":0.085,"y":0.1078,"n":2},{"x":0.0889,"y":0.1078,"n":1},{"x":0.0968,"y":0.1078,"n":1},{"x":0.1008,"y":0.1078,"n":1},{"x":0.1047,"y":0.1078,"n":1},{"x":0.1363,"y":0.1078,"n":1},{"x":0.0692,"y":0.1046,"n":1},{"x":0.085,"y":0.1046,"n":2},{"x":0.0929,"y":0.1046,"n":1},{"x":0.1047,"y":0.1046,"n":1},{"x":0.1205,"y":0.1046,"n":1},{"x":0.1433,"y":0.1046,"n":1},{"x":0.2112,"y":0.1046,"n":1},{"x":0.0613,"y":0.1014,"n":1},{"x":0.0771,"y":0.1014,"n":1},{"x":0.0811,"y":0.1014,"n":1},{"x":0.085,"y":0.1014,"n":2},{"x":0.0889,"y":0.1014,"n":1},{"x":0.1008,"y":0.1014,"n":1},{"x":0.1047,"y":0.1014,"n":1},{"x":0.1087,"y":0.1014,"n":2},{"x":0.1166,"y":0.1014,"n":1},{"x":0.1363,"y":0.1014,"n":1},{"x":0.1402,"y":0.1014,"n":1},{"x":0.156,"y":0.1014,"n":1},{"x":0.1994,"y":0.1014,"n":1},{"x":0.2033,"y":0.1014,"n":1},{"x":0.2152,"y":0.1014,"n":1},{"x":0.085,"y":0.0983,"n":1},{"x":0.1008,"y":0.0983,"n":1},{"x":0.1087,"y":0.0983,"n":1},{"x":0.1166,"y":0.0983,"n":1},{"x":0.1244,"y":0.0983,"n":1},{"x":0.1323,"y":0.0983,"n":1},{"x":0.1521,"y":0.0983,"n":1},{"x":0.2231,"y":0.0983,"n":1},{"x":0.0771,"y":0.0951,"n":1},{"x":0.0929,"y":0.0951,"n":1},{"x":0.0968,"y":0.0951,"n":1},{"x":0.1126,"y":0.0951,"n":1},{"x":0.1166,"y":0.0951,"n":1},{"x":0.1205,"y":0.0951,"n":1},{"x":0.1244,"y":0.0951,"n":1},{"x":0.1363,"y":0.0951,"n":2},{"x":0.2112,"y":0.0951,"n":1},{"x":0.0811,"y":0.092,"n":2},{"x":0.0929,"y":0.092,"n":1},{"x":0.1087,"y":0.092,"n":1},{"x":0.1126,"y":0.092,"n":1},{"x":0.1166,"y":0.092,"n":2},{"x":0.1205,"y":0.092,"n":1},{"x":0.1244,"y":0.092,"n":2},{"x":0.1284,"y":0.092,"n":1},{"x":0.1323,"y":0.092,"n":1},{"x":0.1363,"y":0.092,"n":1},{"x":0.1402,"y":0.092,"n":1},{"x":0.1442,"y":0.092,"n":1},{"x":0.156,"y":0.092,"n":1},{"x":0.1718,"y":0.092,"n":1},{"x":0.1757,"y":0.092,"n":1},{"x":0.1836,"y":0.092,"n":1},{"x":0.227,"y":0.092,"n":1},{"x":0.0968,"y":0.0888,"n":1},{"x":0.1008,"y":0.0888,"n":1},{"x":0.1047,"y":0.0888,"n":2},{"x":0.1087,"y":0.0888,"n":1},{"x":0.1126,"y":0.0888,"n":1},{"x":0.1166,"y":0.0888,"n":1},{"x":0.1205,"y":0.0888,"n":1},{"x":0.1244,"y":0.0888,"n":1},{"x":0.1284,"y":0.0888,"n":1},{"x":0.1402,"y":0.0888,"n":1},{"x":0.1481,"y":0.0888,"n":1},{"x":0.1836,"y":0.0888,"n":1},{"x":0.1876,"y":0.0888,"n":2},{"x":0.1087,"y":0.0856,"n":1},{"x":0.1126,"y":0.0856,"n":1},{"x":0.1166,"y":0.0856,"n":1},{"x":0.1205,"y":0.0856,"n":1},{"x":0.1244,"y":0.0856,"n":1},{"x":0.1323,"y":0.0856,"n":1},{"x":0.1363,"y":0.0856,"n":2},{"x":0.1402,"y":0.0856,"n":1},{"x":0.1639,"y":0.0856,"n":1},{"x":0.1836,"y":0.0856,"n":1},{"x":0.2073,"y":0.0856,"n":1},{"x":0.2231,"y":0.0856,"n":1},{"x":0.2349,"y":0.0856,"n":1},{"x":0.0968,"y":0.0825,"n":1},{"x":0.1047,"y":0.0825,"n":1},{"x":0.1126,"y":0.0825,"n":2},{"x":0.1166,"y":0.0825,"n":2},{"x":0.1205,"y":0.0825,"n":1},{"x":0.1244,"y":0.0825,"n":3},{"x":0.1284,"y":0.0825,"n":1},{"x":0.1323,"y":0.0825,"n":1},{"x":0.1363,"y":0.0825,"n":1},{"x":0.156,"y":0.0825,"n":1},{"x":0.1678,"y":0.0825,"n":1},{"x":0.1718,"y":0.0825,"n":1},{"x":0.1757,"y":0.0825,"n":2},{"x":0.1797,"y":0.0825,"n":2},{"x":0.1836,"y":0.0825,"n":2},{"x":0.1954,"y":0.0825,"n":1},{"x":0.2033,"y":0.0825,"n":1},{"x":0.227,"y":0.0825,"n":1},{"x":0.1166,"y":0.0793,"n":1},{"x":0.1205,"y":0.0793,"n":1},{"x":0.1284,"y":0.0793,"n":1},{"x":0.1363,"y":0.0793,"n":2},{"x":0.1442,"y":0.0793,"n":2},{"x":0.1521,"y":0.0793,"n":1},{"x":0.1678,"y":0.0793,"n":1},{"x":0.1718,"y":0.0793,"n":1},{"x":0.1797,"y":0.0793,"n":2},{"x":0.1836,"y":0.0793,"n":1},{"x":0.1876,"y":0.0793,"n":2},{"x":0.1915,"y":0.0793,"n":1},{"x":0.1954,"y":0.0793,"n":2},{"x":0.1994,"y":0.0793,"n":1},{"x":0.2073,"y":0.0793,"n":1},{"x":0.2152,"y":0.0793,"n":1},{"x":0.0929,"y":0.0761,"n":1},{"x":0.0968,"y":0.0761,"n":1},{"x":0.1008,"y":0.0761,"n":2},{"x":0.1047,"y":0.0761,"n":2},{"x":0.1087,"y":0.0761,"n":1},{"x":0.1126,"y":0.0761,"n":1},{"x":0.1244,"y":0.0761,"n":1},{"x":0.1442,"y":0.0761,"n":2},{"x":0.1481,"y":0.0761,"n":1},{"x":0.1521,"y":0.0761,"n":1},{"x":0.156,"y":0.0761,"n":1},{"x":0.1599,"y":0.0761,"n":2},{"x":0.1678,"y":0.0761,"n":2},{"x":0.1718,"y":0.0761,"n":4},{"x":0.1757,"y":0.0761,"n":1},{"x":0.1797,"y":0.0761,"n":2},{"x":0.1836,"y":0.0761,"n":1},{"x":0.1876,"y":0.0761,"n":3},{"x":0.1915,"y":0.0761,"n":2},{"x":0.1954,"y":0.0761,"n":1},{"x":0.1994,"y":0.0761,"n":3},{"x":0.2191,"y":0.0761,"n":1},{"x":0.2309,"y":0.0761,"n":1},{"x":0.0929,"y":0.073,"n":1},{"x":0.0968,"y":0.073,"n":2},{"x":0.1008,"y":0.073,"n":3},{"x":0.1047,"y":0.073,"n":1},{"x":0.1087,"y":0.073,"n":2},{"x":0.1205,"y":0.073,"n":1},{"x":0.1244,"y":0.073,"n":1},{"x":0.1284,"y":0.073,"n":1},{"x":0.1402,"y":0.073,"n":1},{"x":0.1442,"y":0.073,"n":1},{"x":0.1481,"y":0.073,"n":1},{"x":0.156,"y":0.073,"n":1},{"x":0.1599,"y":0.073,"n":1},{"x":0.1639,"y":0.073,"n":2},{"x":0.1678,"y":0.073,"n":3},{"x":0.1718,"y":0.073,"n":2},{"x":0.1757,"y":0.073,"n":2},{"x":0.1797,"y":0.073,"n":1},{"x":0.1836,"y":0.073,"n":3},{"x":0.1876,"y":0.073,"n":1},{"x":0.1915,"y":0.073,"n":1},{"x":0.1954,"y":0.073,"n":1},{"x":0.1994,"y":0.073,"n":1},{"x":0.2033,"y":0.073,"n":1},{"x":0.2112,"y":0.073,"n":1},{"x":0.2152,"y":0.073,"n":1},{"x":0.0889,"y":0.0698,"n":1},{"x":0.0929,"y":0.0698,"n":1},{"x":0.1047,"y":0.0698,"n":1},{"x":0.1166,"y":0.0698,"n":1},{"x":0.1244,"y":0.0698,"n":1},{"x":0.1284,"y":0.0698,"n":1},{"x":0.1323,"y":0.0698,"n":2},{"x":0.1481,"y":0.0698,"n":1},{"x":0.1521,"y":0.0698,"n":2},{"x":0.156,"y":0.0698,"n":1},{"x":0.1599,"y":0.0698,"n":1},{"x":0.1639,"y":0.0698,"n":3},{"x":0.1678,"y":0.0698,"n":5},{"x":0.1718,"y":0.0698,"n":5},{"x":0.1757,"y":0.0698,"n":4},{"x":0.1797,"y":0.0698,"n":3},{"x":0.1836,"y":0.0698,"n":2},{"x":0.1876,"y":0.0698,"n":3},{"x":0.1915,"y":0.0698,"n":1},{"x":0.1954,"y":0.0698,"n":1},{"x":0.1994,"y":0.0698,"n":1},{"x":0.2033,"y":0.0698,"n":1},{"x":0.2073,"y":0.0698,"n":1},{"x":0.2112,"y":0.0698,"n":1},{"x":0.2191,"y":0.0698,"n":1},{"x":0.0889,"y":0.0666,"n":1},{"x":0.0929,"y":0.0666,"n":1},{"x":0.0968,"y":0.0666,"n":1},{"x":0.1008,"y":0.0666,"n":1},{"x":0.1047,"y":0.0666,"n":2},{"x":0.1087,"y":0.0666,"n":1},{"x":0.1126,"y":0.0666,"n":1},{"x":0.1284,"y":0.0666,"n":1},{"x":0.1323,"y":0.0666,"n":1},{"x":0.1363,"y":0.0666,"n":1},{"x":0.1402,"y":0.0666,"n":4},{"x":0.1442,"y":0.0666,"n":4},{"x":0.1481,"y":0.0666,"n":1},{"x":0.1521,"y":0.0666,"n":2},{"x":0.156,"y":0.0666,"n":3},{"x":0.1599,"y":0.0666,"n":4},{"x":0.1639,"y":0.0666,"n":1},{"x":0.1678,"y":0.0666,"n":5},{"x":0.1718,"y":0.0666,"n":4},{"x":0.1757,"y":0.0666,"n":4},{"x":0.1797,"y":0.0666,"n":3},{"x":0.1836,"y":0.0666,"n":5},{"x":0.1876,"y":0.0666,"n":3},{"x":0.1915,"y":0.0666,"n":2},{"x":0.1954,"y":0.0666,"n":1},{"x":0.1994,"y":0.0666,"n":1},{"x":0.2033,"y":0.0666,"n":1},{"x":0.2112,"y":0.0666,"n":1},{"x":0.2152,"y":0.0666,"n":1},{"x":0.0929,"y":0.0635,"n":1},{"x":0.0968,"y":0.0635,"n":1},{"x":0.1284,"y":0.0635,"n":1},{"x":0.1402,"y":0.0635,"n":2},{"x":0.1442,"y":0.0635,"n":3},{"x":0.1481,"y":0.0635,"n":2},{"x":0.1521,"y":0.0635,"n":5},{"x":0.156,"y":0.0635,"n":3},{"x":0.1599,"y":0.0635,"n":5},{"x":0.1639,"y":0.0635,"n":1},{"x":0.1678,"y":0.0635,"n":5},{"x":0.1718,"y":0.0635,"n":5},{"x":0.1757,"y":0.0635,"n":3},{"x":0.1797,"y":0.0635,"n":3},{"x":0.1836,"y":0.0635,"n":2},{"x":0.1915,"y":0.0635,"n":2},{"x":0.1954,"y":0.0635,"n":1},{"x":0.1994,"y":0.0635,"n":1},{"x":0.2033,"y":0.0635,"n":1},{"x":0.2152,"y":0.0635,"n":1},{"x":0.1284,"y":0.0603,"n":1},{"x":0.1323,"y":0.0603,"n":1},{"x":0.1363,"y":0.0603,"n":2},{"x":0.1402,"y":0.0603,"n":4},{"x":0.1442,"y":0.0603,"n":2},{"x":0.1481,"y":0.0603,"n":1},{"x":0.1521,"y":0.0603,"n":5},{"x":0.156,"y":0.0603,"n":3},{"x":0.1599,"y":0.0603,"n":3},{"x":0.1639,"y":0.0603,"n":3},{"x":0.1678,"y":0.0603,"n":5},{"x":0.1718,"y":0.0603,"n":4},{"x":0.1757,"y":0.0603,"n":4},{"x":0.1797,"y":0.0603,"n":3},{"x":0.1836,"y":0.0603,"n":3},{"x":0.1915,"y":0.0603,"n":3},{"x":0.1994,"y":0.0603,"n":2},{"x":0.2033,"y":0.0603,"n":1},{"x":0.2152,"y":0.0603,"n":1},{"x":0.1244,"y":0.0571,"n":1},{"x":0.1323,"y":0.0571,"n":1},{"x":0.1363,"y":0.0571,"n":2},{"x":0.1402,"y":0.0571,"n":3},{"x":0.1442,"y":0.0571,"n":2},{"x":0.1481,"y":0.0571,"n":1},{"x":0.1521,"y":0.0571,"n":2},{"x":0.156,"y":0.0571,"n":5},{"x":0.1599,"y":0.0571,"n":3},{"x":0.1639,"y":0.0571,"n":5},{"x":0.1678,"y":0.0571,"n":5},{"x":0.1718,"y":0.0571,"n":1},{"x":0.1757,"y":0.0571,"n":1},{"x":0.1797,"y":0.0571,"n":4},{"x":0.1876,"y":0.0571,"n":1},{"x":0.1915,"y":0.0571,"n":1},{"x":0.1323,"y":0.054,"n":1},{"x":0.1402,"y":0.054,"n":3},{"x":0.1442,"y":0.054,"n":3},{"x":0.1481,"y":0.054,"n":1},{"x":0.1521,"y":0.054,"n":4},{"x":0.156,"y":0.054,"n":2},{"x":0.1599,"y":0.054,"n":3},{"x":0.1639,"y":0.054,"n":1},{"x":0.1718,"y":0.054,"n":2},{"x":0.1797,"y":0.054,"n":1},{"x":0.1836,"y":0.054,"n":1},{"x":0.1994,"y":0.054,"n":1},{"x":0.1205,"y":0.0508,"n":1},{"x":0.1244,"y":0.0508,"n":1},{"x":0.1323,"y":0.0508,"n":1},{"x":0.1402,"y":0.0508,"n":1},{"x":0.1442,"y":0.0508,"n":1},{"x":0.1481,"y":0.0508,"n":1},{"x":0.1521,"y":0.0508,"n":2},{"x":0.156,"y":0.0508,"n":2},{"x":0.1599,"y":0.0508,"n":1},{"x":0.1639,"y":0.0508,"n":1},{"x":0.1718,"y":0.0508,"n":1},{"x":0.1757,"y":0.0508,"n":2},{"x":0.1797,"y":0.0508,"n":1},{"x":0.1876,"y":0.0508,"n":1},{"x":0.1363,"y":0.0476,"n":1},{"x":0.1402,"y":0.0476,"n":2},{"x":0.1442,"y":0.0476,"n":1},{"x":0.1481,"y":0.0476,"n":1},{"x":0.156,"y":0.0476,"n":1},{"x":0.1599,"y":0.0476,"n":1},{"x":0.1639,"y":0.0476,"n":1},{"x":0.1678,"y":0.0476,"n":1},{"x":0.1718,"y":0.0476,"n":1},{"x":0.1323,"y":0.0445,"n":2},{"x":0.1402,"y":0.0445,"n":1},{"x":0.1442,"y":0.0445,"n":2},{"x":0.1521,"y":0.0445,"n":1},{"x":0.156,"y":0.0445,"n":2},{"x":0.1836,"y":0.0445,"n":1},{"x":0.1402,"y":0.0413,"n":1}]},"mark":{"type":"rect","width":8.1,"height":7.5},"encoding":{"x":{"field":"x","type":"quantitative","title":"width","scale":{"domain":[0.02997,0.24723],"nice":false},"axis":{"values":[0.05,0.1,0.15,0.2],"format":".2f","labelPadding":3,"titlePadding":9}},"y":{"field":"y","type":"quantitative","title":"height","scale":{"domain":[0.03186,0.20591],"nice":false},"axis":{"values":[0.04,0.06,0.08,0.1,0.12,0.14,0.16,0.18,0.2],"format":".2f","titlePadding":8}},"color":{"field":"n","type":"ordinal","legend":null,"scale":{"domain":[1,2,3,4,5],"range":["#8fbcf0","#2aa5f2","#2c8edb","#3a78b0","#3d5a80"]}},"order":{"field":"n"}}},{"data":{"values":[{"x":0.2611,"y":-0.0062,"t":"CSDN @xuehaishijue"}]},"mark":{"type":"text","align":"right","baseline":"middle","font":"Liberation Sans","fontSize":17,"color":"#b8b8b8"},"encoding":{"x":{"field":"x","type":"quantitative"},"y":{"field":"y","type":"quantitative"},"text":{"field":"t"}}}]}],"columns":2,"spacing":{"row":204,"column":109},"bounds":"flush"}
